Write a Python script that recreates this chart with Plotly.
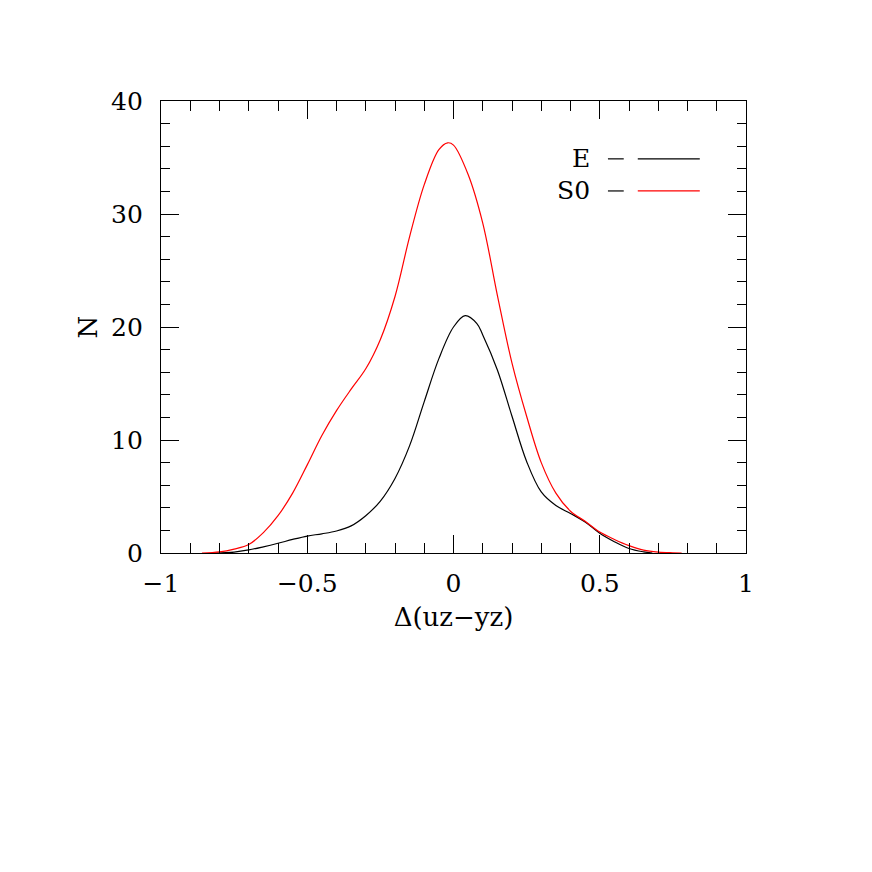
import plotly.graph_objects as go

# E galaxies
x_e = [-0.82, -0.75, -0.7, -0.65, -0.6, -0.55, -0.5, -0.45, -0.4, -0.35, -0.3,
       -0.25, -0.2, -0.15, -0.1, -0.05, 0.0, 0.04, 0.08, 0.1, 0.15, 0.2, 0.25,
       0.3, 0.35, 0.4, 0.45, 0.5, 0.55, 0.6, 0.65, 0.68]
n_e = [0.0, 0.08, 0.27, 0.55, 0.86, 1.2, 1.5, 1.7, 1.95, 2.4, 3.3,
       4.6, 6.6, 9.5, 13.4, 17.2, 20.0, 21.0, 20.3, 19.3, 16.2, 12.1, 8.1,
       5.4, 4.2, 3.5, 2.75, 1.75, 1.0, 0.4, 0.1, 0.0]

# S0 galaxies
x_s0 = [-0.86, -0.8, -0.75, -0.7, -0.65, -0.6, -0.55, -0.5, -0.45, -0.4, -0.35,
        -0.3, -0.25, -0.2, -0.15, -0.1, -0.05, -0.02, 0.0, 0.05, 0.1, 0.15,
        0.2, 0.25, 0.3, 0.35, 0.4, 0.45, 0.5, 0.55, 0.6, 0.65, 0.7, 0.75, 0.78]
n_s0 = [0.0, 0.1, 0.35, 0.75, 1.8, 3.3, 5.3, 7.8, 10.4, 12.6, 14.5,
        16.3, 18.9, 22.7, 28.0, 32.6, 35.7, 36.3, 36.1, 33.5, 29.2, 22.8,
        16.8, 12.1, 8.0, 5.3, 3.7, 2.8, 1.85, 1.2, 0.65, 0.25, 0.08, 0.02, 0.0]

legend_labels = ["E", "S0"]
legend_colors = ["black", "#ff0000"]
legend_y = [0.872, 0.801]

serif = "DejaVu Serif"

fig = go.Figure()
fig.add_trace(go.Scatter(x=x_e, y=n_e, mode="lines", name="E",
                         line=dict(color="black", width=1.2, shape="spline")))
fig.add_trace(go.Scatter(x=x_s0, y=n_s0, mode="lines", name="S0",
                         line=dict(color="#ff0000", width=1.2, shape="spline")))

axis_common = dict(
    showgrid=False, zeroline=False, showline=True, linecolor="black",
    linewidth=1.2, mirror="allticks", ticks="inside", tickcolor="black",
    tickwidth=1.2, tickfont=dict(family=serif, size=25, color="black"),
)

fig.update_xaxes(range=[-1, 1], tickvals=[-1, -0.5, 0, 0.5, 1],
                 ticktext=["\u22121", "\u22120.5", "0", "0.5", "1"], ticklen=18,
                 ticklabelstandoff=8,
                 minor=dict(dtick=0.1, ticks="inside", ticklen=10,
                            tickcolor="black", tickwidth=1.2),
                 title=dict(text="\u0394(uz\u2212yz)", standoff=10,
                            font=dict(family=serif, size=26, color="black")),
                 **axis_common)
fig.update_yaxes(range=[0, 40], dtick=10, ticklen=18,
                 ticklabelstandoff=12,
                 minor=dict(dtick=2, ticks="inside", ticklen=9,
                            tickcolor="black", tickwidth=1.2),
                 title=dict(text="N", standoff=5,
                            font=dict(family=serif, size=26, color="black")),
                 **axis_common)

# legend drawn in the SM style: label, short dash, line sample
for label, col, yy in zip(legend_labels, legend_colors, legend_y):
    fig.add_annotation(x=0.733, y=yy, xref="paper", yref="paper",
                       text=label, showarrow=False, xanchor="right",
                       yanchor="middle", xshift=2,
                       font=dict(family=serif, size=25, color="black"))
    fig.add_shape(type="line", xref="paper", yref="paper",
                  x0=0.764, x1=0.791, y0=yy, y1=yy,
                  line=dict(color="black", width=1.2))
    fig.add_shape(type="line", xref="paper", yref="paper",
                  x0=0.815, x1=0.921, y0=yy, y1=yy,
                  line=dict(color=col, width=1.2))

fig.update_layout(
    width=872, height=872, showlegend=False,
    margin=dict(l=153, r=134, t=93, b=327),
    plot_bgcolor="white", paper_bgcolor="white",
    font=dict(family=serif, color="black"),
)

fig.write_html("out.html")
